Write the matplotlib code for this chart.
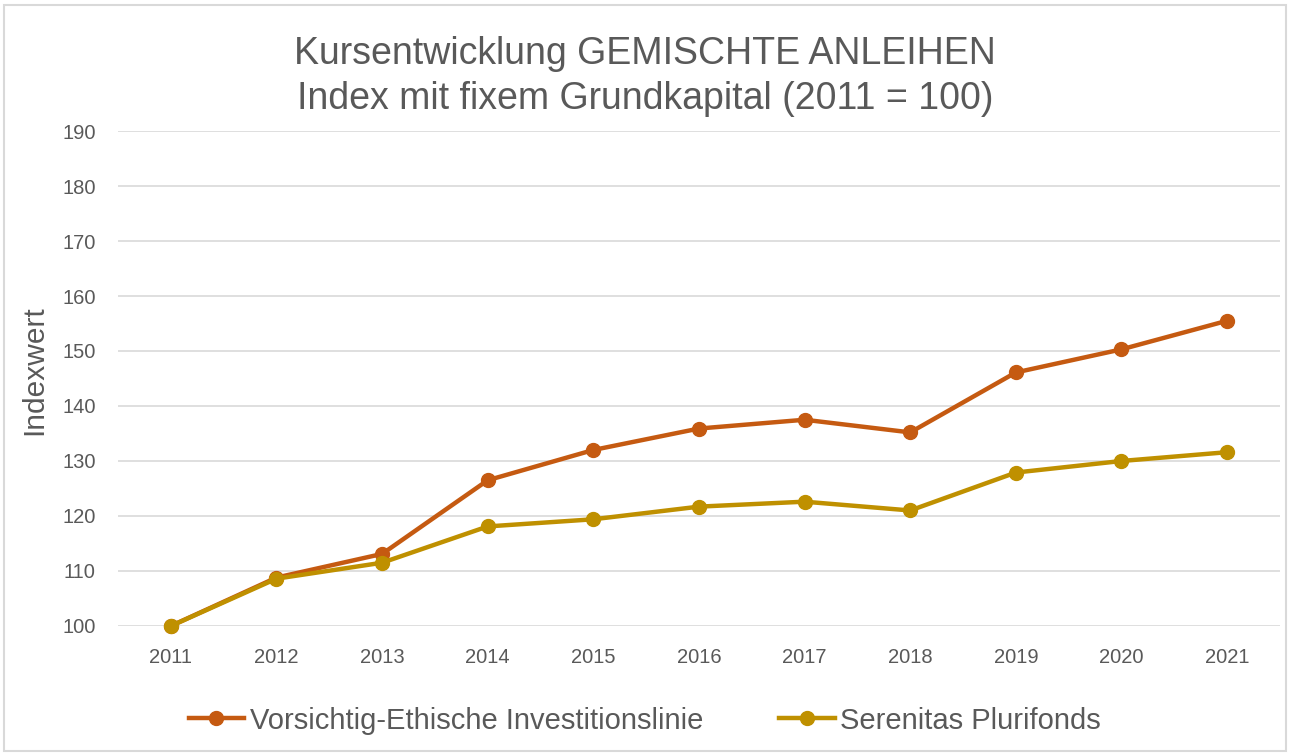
import matplotlib
matplotlib.use("Agg")
import matplotlib.pyplot as plt
from matplotlib.patches import Rectangle

plt.rcParams['font.family'] = ['Liberation Sans', 'DejaVu Sans']

# Daten
jahre = ['2011', '2012', '2013', '2014', '2015', '2016', '2017', '2018', '2019', '2020', '2021']
vorsichtig = [100, 108.8, 113.1, 126.5, 132.0, 135.9, 137.5, 135.2, 146.1, 150.3, 155.5]
serenitas = [100, 108.6, 111.5, 118.1, 119.4, 121.7, 122.6, 121.0, 127.9, 130.0, 131.6]
y_ticks = list(range(100, 200, 10))

text_color = '#595959'

fig = plt.figure(figsize=(12.9, 7.53), dpi=100)
ax = fig.add_axes([0.0915, 0.1687, 0.9007, 0.6573])

x = range(len(jahre))
ax.plot(x, vorsichtig, color='#C55A11', lw=3.2, marker='o', ms=10,
        label='Vorsichtig-Ethische Investitionslinie', zorder=3)
ax.plot(x, serenitas, color='#BF9000', lw=3.2, marker='o', ms=10,
        label='Serenitas Plurifonds', zorder=3)

ax.set_xlim(-0.5, len(jahre) - 0.5)
ax.set_ylim(100, 190)
ax.set_yticks(y_ticks)
ax.set_xticks(list(x))
ax.set_xticklabels(jahre)
ax.tick_params(length=0, labelsize=14.5, labelcolor=text_color)
ax.tick_params(axis='x', pad=16)
ax.tick_params(axis='y', pad=16)
ax.grid(axis='y', color='#D9D9D9', lw=1.2)
ax.set_axisbelow(True)
for s in ax.spines.values():
    s.set_visible(False)
for line in ax.get_lines():
    line.set_clip_on(False)

ax.set_ylabel('Indexwert', fontsize=21.5, color=text_color)
ax.yaxis.set_label_coords(-0.060, 0.517)

fig.text(0.5, 0.899, 'Kursentwicklung GEMISCHTE ANLEIHEN\nIndex mit fixem Grundkapital (2011 = 100)',
         ha='center', va='center', fontsize=27, color=text_color, linespacing=1.32)

fig.legend(loc='center', bbox_to_anchor=(0.5, 0.043), ncol=2, frameon=False,
           fontsize=21, labelcolor=text_color, handlelength=1.9, columnspacing=2.6,
           handletextpad=0.2)

fig.patches.append(Rectangle((0.003, 0.003), 0.994, 0.99, transform=fig.transFigure,
                             fill=False, edgecolor='#D9D9D9', lw=1.5))

fig.savefig('out.png', dpi=100)
